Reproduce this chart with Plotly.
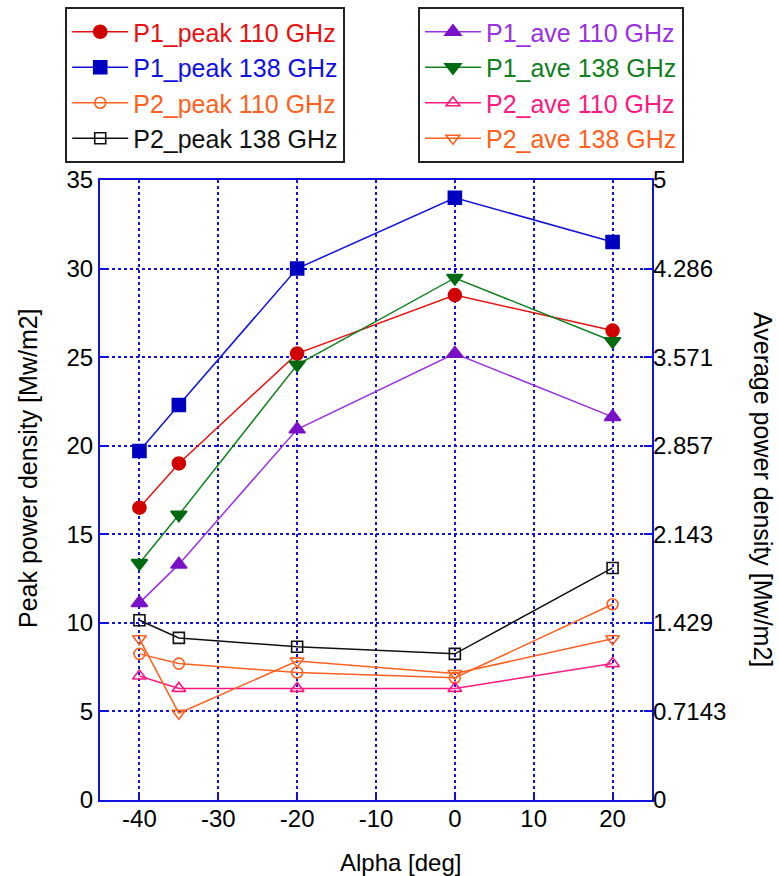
import plotly.graph_objects as go

alpha = [-40, -35, -20, 0, 20]
p1_peak_110 = [16.5, 19.0, 25.2, 28.5, 26.5]
p1_peak_138 = [19.7, 22.3, 30.0, 34.0, 31.5]
p2_peak_110 = [8.25, 7.7, 7.2, 6.9, 11.05]
p2_peak_138 = [10.15, 9.15, 8.65, 8.25, 13.1]
p1_ave_110 = [1.59, 1.90, 2.99, 3.60, 3.09]
p1_ave_138 = [1.91, 2.30, 3.51, 4.21, 3.70]
p2_ave_110 = [1.0, 0.9, 0.9, 0.9, 1.1]
p2_ave_138 = [1.30, 0.70, 1.12, 1.02, 1.30]

x_ticks = [-40, -30, -20, -10, 0, 10, 20]
y_ticks = [0, 5, 10, 15, 20, 25, 30, 35]
y2_tickvals = [i * 5 / 7 for i in range(8)]
y2_ticktext = ["0", "0.7143", "1.429", "2.143", "2.857", "3.571", "4.286", "5"]

FONT = "Arial, Liberation Sans, sans-serif"
BLUE = "#1010e0"

series = [
    ("P1_peak 110 GHz", p1_peak_110, "y", "#e81010", "#d00000", "circle", 13, "legend"),
    ("P1_peak 138 GHz", p1_peak_138, "y", "#1010e0", "#0000c0", "square", 13, "legend"),
    ("P2_peak 110 GHz", p2_peak_110, "y", "#ff6020", "#ff6020", "circle-open", 11, "legend"),
    ("P2_peak 138 GHz", p2_peak_138, "y", "#111111", "#111111", "square-open", 11, "legend"),
    ("P1_ave 110 GHz", p1_ave_110, "y2", "#9a30e0", "#7a10c8", "triangle-up", 14, "legend2"),
    ("P1_ave 138 GHz", p1_ave_138, "y2", "#108020", "#006a10", "triangle-down", 14, "legend2"),
    ("P2_ave 110 GHz", p2_ave_110, "y2", "#ff1880", "#ff1880", "triangle-up-open", 12, "legend2"),
    ("P2_ave 138 GHz", p2_ave_138, "y2", "#ff6020", "#ff6020", "triangle-down-open", 12, "legend2"),
]

fig = go.Figure()
for name, vals, yax, lc, mc, sym, sz, leg in series:
    fig.add_trace(go.Scatter(
        x=alpha, y=vals, yaxis=yax, mode="lines+markers",
        name=f'<span style="color:{lc}">{name}</span>',
        line=dict(color=lc, width=1.5),
        marker=dict(symbol=sym, size=sz, color=mc, line=dict(color=mc, width=1.6)),
        legend=leg,
    ))

legend_common = dict(
    bgcolor="white", bordercolor="#222222", borderwidth=2,
    font=dict(family=FONT, size=25, color="black"),
    xanchor="left", yanchor="top", yref="paper", xref="paper",
    itemwidth=56, tracegroupgap=0,
)

fig.update_layout(
    width=779, height=876,
    margin=dict(l=100, r=127, t=180, b=76, autoexpand=False),
    paper_bgcolor="white", plot_bgcolor="white",
    font=dict(family=FONT, size=24, color="black"),
    showlegend=True,
    legend=dict(x=-0.063, y=1.279, **legend_common),
    legend2=dict(x=0.576, y=1.279, **legend_common),
    xaxis=dict(
        range=[-45, 25], tickvals=x_ticks, ticktext=[str(v) for v in x_ticks],
        showline=True, mirror=True, linecolor=BLUE, linewidth=2,
        showgrid=True, gridcolor=BLUE, griddash="dot", gridwidth=1.5,
        ticks="inside", ticklen=8, tickcolor=BLUE, tickwidth=2,
        zeroline=False, ticklabelstandoff=-4,
        tickfont=dict(size=24),
    ),
    yaxis=dict(
        range=[0, 35], tickvals=y_ticks,
        showline=True, mirror=True, linecolor=BLUE, linewidth=2,
        showgrid=True, gridcolor=BLUE, griddash="dot", gridwidth=1.5,
        ticks="inside", ticklen=8, tickcolor=BLUE, tickwidth=2,
        zeroline=False,
        tickfont=dict(size=24),
    ),
    yaxis2=dict(
        range=[0, 5], overlaying="y", side="right",
        tickvals=y2_tickvals, ticktext=y2_ticktext,
        showgrid=False, zeroline=False, showline=False,
        ticks="inside", ticklen=8, tickcolor=BLUE, tickwidth=2,
        tickfont=dict(size=24),
    ),
    annotations=[
        dict(text="Alpha [deg]", xref="paper", yref="paper",
             x=(400 - 100) / 552, y=-(862 - 800) / 620,
             xanchor="center", yanchor="middle", showarrow=False,
             font=dict(size=24)),
        dict(text="Peak power density [Mw/m2]", xref="paper", yref="paper",
             x=(28 - 100) / 552, y=(800 - 468) / 620, textangle=-90,
             xanchor="center", yanchor="middle", showarrow=False,
             font=dict(size=25)),
        dict(text="Average power density [Mw/m2]", xref="paper", yref="paper",
             x=(763 - 100) / 552, y=(800 - 490) / 620, textangle=90,
             xanchor="center", yanchor="middle", showarrow=False,
             font=dict(size=25)),
    ],
)

fig.write_html("out.html", config={"displayModeBar": False})

# remove the default page margin so the figure fills the window exactly
with open("out.html", "r", encoding="utf-8") as f:
    html = f.read()
html = html.replace("<head>", "<head><style>html,body{margin:0;padding:0;overflow:hidden;}</style>", 1)
with open("out.html", "w", encoding="utf-8") as f:
    f.write(html)
